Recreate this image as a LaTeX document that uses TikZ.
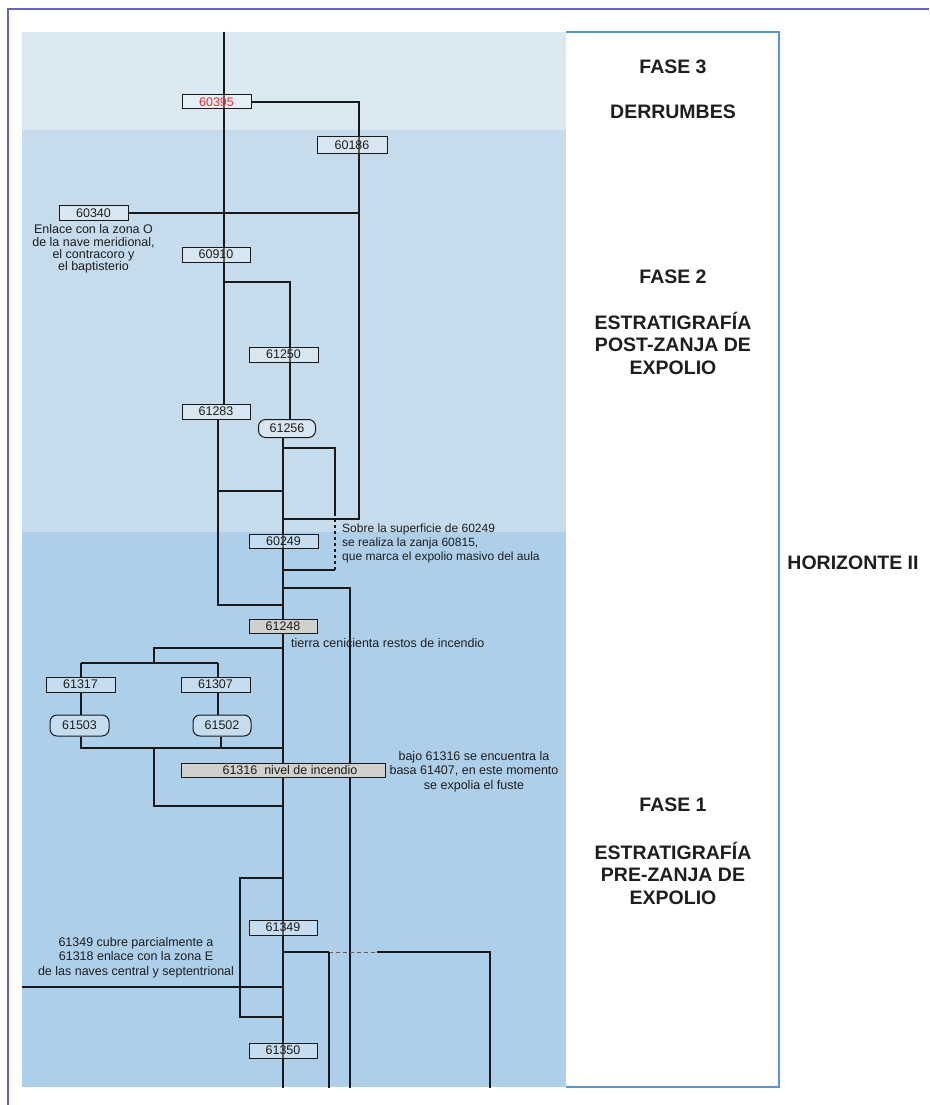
\documentclass[tikz,border=0pt]{standalone}
\usepackage{fontspec}
\setmainfont{Liberation Sans}
\usetikzlibrary{calc}
\definecolor{bandA}{RGB}{219,233,243}
\definecolor{bandB}{RGB}{198,220,236}
\definecolor{bandC}{RGB}{174,207,233}
\definecolor{colborder}{RGB}{85,150,215}
\definecolor{framec}{RGB}{100,100,185}
\definecolor{linec}{RGB}{25,25,25}
\definecolor{textc}{RGB}{30,30,30}
\definecolor{titlec}{RGB}{30,30,30}
\definecolor{boxgray}{RGB}{208,208,205}
\definecolor{numred}{RGB}{235,45,45}
\pgfdeclarelayer{back}
\pgfdeclarelayer{lines}
\pgfsetlayers{back,lines,main}
\begin{document}
\begin{tikzpicture}[x=1pt,y=-1pt,
 conn/.style={draw=linec, line width=1.6pt},
 dconn/.style={draw=linec, line width=1.3pt, dashed, dash pattern=on 3pt off 3pt},
 box/.style={draw=linec, line width=1pt, fill=white, fill opacity=0.3, text opacity=1, inner sep=0pt, minimum height=15pt, font=\fontsize{12.5}{12.5}\selectfont, text=textc},
 graybox/.style={box, fill=boxgray, fill opacity=1},
 capsule/.style={box, rounded corners=7pt, minimum height=19pt},
 lbl/.style={font=\fontsize{12.5}{14.5}\selectfont, text=textc, inner sep=0pt, align=center},
 ttl/.style={font=\fontsize{19.5}{22.5}\selectfont\bfseries, text=titlec, inner sep=0pt, align=center}]
\useasboundingbox (0,0) rectangle (929,1105);
% backgrounds
\begin{pgfonlayer}{back}
\fill[white] (0,0) rectangle (929,1105);
\fill[bandA] (22,32) rectangle (566,130);
\fill[bandB] (22,130) rectangle (566,532);
\fill[bandC] (22,532) rectangle (566,1087);
\fill[white] (566,32) rectangle (779,1087);
\draw[colborder, line width=1.4pt] (566,32) -- (779,32) -- (779,1087) -- (566,1087);
\draw[framec, line width=1.6pt] (8,1105) -- (8,9) -- (929,9);
\end{pgfonlayer}

% coordinates
\coordinate (v1top) at (224,32);
\coordinate (c359t) at (359,102);
\coordinate (c359b) at (359,519);
\coordinate (m519) at (283,519);
\coordinate (j282) at (224,282);
\coordinate (r282) at (290,282);
\coordinate (l419) at (218,419);
\coordinate (l605) at (218,605);
\coordinate (m605) at (283,605);
\coordinate (l491) at (218,491);
\coordinate (m491) at (283,491);
\coordinate (bot283) at (283,1088);
\coordinate (m448) at (283,448);
\coordinate (d448) at (335,448);
\coordinate (d513) at (335,513);
\coordinate (d570) at (335,570);
\coordinate (m570) at (283,570);
\coordinate (m588) at (283,588);
\coordinate (r588) at (350,588);
\coordinate (r350b) at (350,1088);
\coordinate (m648) at (283,648);
\coordinate (k648) at (154,648);
\coordinate (k663) at (154,663);
\coordinate (a663) at (81,663);
\coordinate (b663) at (218,663);
\coordinate (a748) at (81,748);
\coordinate (b748) at (221,748);
\coordinate (k748) at (154,748);
\coordinate (m748) at (283,748);
\coordinate (k806) at (154,806);
\coordinate (m806) at (283,806);
\coordinate (m878) at (283,878);
\coordinate (g878) at (240,878);
\coordinate (g1017) at (240,1017);
\coordinate (m1017) at (283,1017);
\coordinate (e987) at (22,987);
\coordinate (m987) at (283,987);
\coordinate (m952) at (283,952);
\coordinate (p952) at (329,952);
\coordinate (q952) at (377,952);
\coordinate (s952) at (490,952);
\coordinate (p1088) at (329,1088);
\coordinate (s1088) at (490,1088);

% boxes
\path
 (216.5,102) node[box, minimum width=69pt, minimum height=14pt] (b60395) {\textcolor{numred}{60395}}
 (352,145) node[box, minimum width=70pt, minimum height=16pt] (b60186) {60186}
 (93.5,213) node[box, minimum width=69pt] (b60340) {60340}
 (216,254.5) node[box, minimum width=68pt] (b60910) {60910}
 (283.5,354.5) node[box, minimum width=69pt] (b61250) {61250}
 (216,411.5) node[box, minimum width=68pt] (b61283) {61283}
 (287,428.5) node[capsule, minimum width=57pt, minimum height=18pt] (b61256) {61256}
 (283.5,541) node[box, minimum width=69pt, minimum height=14pt] (b60249) {60249}
 (283,626.5) node[graybox, minimum width=68pt, minimum height=14pt] (b61248) {61248}
 (80.5,684.5) node[box, minimum width=69pt] (b61317) {61317}
 (215.5,684.5) node[box, minimum width=69pt] (b61307) {61307}
 (79.5,725.5) node[capsule, minimum width=59pt, minimum height=21pt] (b61503) {61503}
 (222,725.5) node[capsule, minimum width=58pt, minimum height=21pt] (b61502) {61502}
 (283,770) node[graybox, minimum width=204pt, minimum height=14pt] (b61316) {\hspace*{14pt}61316\ \ nivel de incendio}
 (283,927.5) node[box, minimum width=68pt] (b61349) {61349}
 (283,1050.5) node[box, minimum width=68pt] (b61350) {61350};

% connectors (behind boxes)
\begin{pgfonlayer}{lines}
\draw[conn] (v1top) -- (v1top |- b61283.north);
\draw[conn] (b60395.east |- c359t) -- (c359t) -- (c359b) -- (m519);
\draw[conn] (b60340.east) -- (b60340.east -| c359t);
\draw[conn] (j282) -- (r282) -- (r282 |- b61256.north);
\draw[conn] (l419) -- (l605) -- (m605);
\draw[conn] (l491) -- (m491);
\draw[conn] (b61256.south -| bot283) -- (bot283);
\draw[conn] (m448) -- (d448) -- (d513);
\draw[dconn] (d513) -- (d570);
\draw[conn] (d570) -- (m570);
\draw[conn] (m588) -- (r588) -- (r350b);
\draw[conn] (m648) -- (k648) -- (k663);
\draw[conn] (a663) -- (b663);
\draw[conn] (a663) -- (a663 |- b61317.north);
\draw[conn] (b663) -- (b663 |- b61307.north);
\draw[conn] (a663 |- b61317.south) -- (a663 |- b61503.north);
\draw[conn] (b663 |- b61307.south) -- (b663 |- b61502.north);
\draw[conn] (a748 |- b61503.south) -- (a748) -- (m748);
\draw[conn] (b748 |- b61502.south) -- (b748);
\draw[conn] (k748) -- (k806) -- (m806);
\draw[conn] (m878) -- (g878) -- (g1017) -- (m1017);
\draw[conn] (e987) -- (m987);
\draw[conn] (m952) -- (p952);
\draw[draw=linec!70, line width=1pt, dashed, dash pattern=on 4pt off 3pt] (p952) -- (q952);
\draw[conn] (q952) -- (s952) -- (s1088);
\draw[conn] (p952) -- (p1088);
\end{pgfonlayer}

% labels
\node[lbl, font=\fontsize{12.5}{12.2}\selectfont] (tEnlace) at (93.5,249) {Enlace con la zona O\\de la nave meridional,\\el contracoro y\\el baptisterio};
\node[lbl, font=\fontsize{12}{14}\selectfont, align=left, anchor=west] (tSobre) at (342,543) {Sobre la superficie de 60249\\se realiza la zanja 60815,\\que marca el expolio masivo del aula};
\node[lbl, anchor=west] (tTierra) at (291,643) {tierra cenicienta restos de incendio};
\node[lbl] (tBajo) at (474,771.5) {bajo 61316 se encuentra la\\basa 61407, en este momento\\se expolia el fuste};
\node[lbl] (tCubre) at (136,957.5) {61349 cubre parcialmente a\\61318 enlace con la zona E\\de las naves central y septentrional};

% titles
\node[ttl] (f3) at (673,67) {FASE 3};
\node[ttl] (der) at (673,112) {DERRUMBES};
\node[ttl] (f2) at (673,277) {FASE 2};
\node[ttl] (post) at (673,343) {ESTRATIGRAFÍA\\POST-ZANJA DE\\EXPOLIO};
\node[ttl] (f1) at (673,805) {FASE 1};
\node[ttl] (pre) at (673,873) {ESTRATIGRAFÍA\\PRE-ZANJA DE\\EXPOLIO};
\node[ttl] (hor) at (853,563) {HORIZONTE II};
\end{tikzpicture}
\end{document}
